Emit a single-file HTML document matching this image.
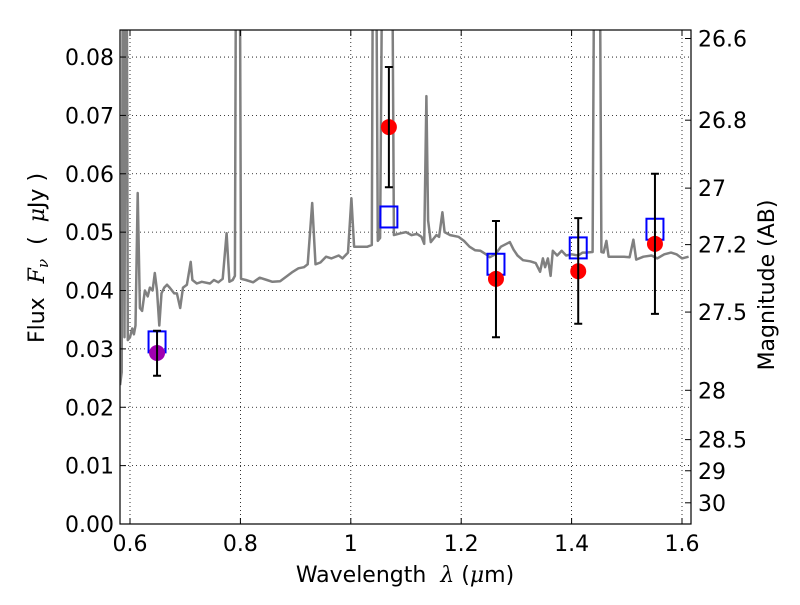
<!DOCTYPE html>
<html><head><meta charset="utf-8"><style>
body{margin:0;background:#fff}
text{font-family:"DejaVu Sans","Liberation Sans",sans-serif;fill:#000}
</style></head><body>
<svg id="chart" width="800" height="600" xmlns="http://www.w3.org/2000/svg">
<defs><clipPath id="clip"><rect x="120" y="30" width="571" height="494"/></clipPath></defs>
<rect x="0" y="0" width="800" height="600" fill="#fff"/>
<g id="grid"></g>
<g id="spec" clip-path="url(#clip)"></g>
<g id="pts"></g>
<rect x="120" y="30" width="571" height="494" fill="none" stroke="#000" stroke-width="1.2"/>
<g id="axes"></g>
<text x="405" y="582" font-size="22" text-anchor="middle" xml:space="preserve">Wavelength  <tspan font-style="italic" font-family="DejaVu Serif, serif">λ</tspan> (<tspan font-style="italic" font-family="DejaVu Serif, serif">μ</tspan>m)</text>
<text transform="translate(44,258) rotate(-90)" font-size="22" text-anchor="middle" xml:space="preserve">Flux  <tspan font-style="italic" font-family="DejaVu Serif, serif">F</tspan><tspan font-style="italic" font-size="15" dy="4" font-family="DejaVu Serif, serif">ν</tspan><tspan dy="-4">  (  </tspan><tspan font-style="italic" font-family="DejaVu Serif, serif">μ</tspan>Jy )</text>
<text transform="translate(774,285) rotate(-90)" font-size="22" text-anchor="middle">Magnitude (AB)</text>
</svg>
<script>
const specLam=[0.582,0.585,0.587,0.589,0.590,0.592,0.594,0.596,0.600,0.604,0.607,0.610,0.614,0.618,0.622,0.627,0.632,0.636,0.641,0.645,0.649,0.653,0.657,0.662,0.667,0.672,0.680,0.685,0.691,0.696,0.703,0.710,0.713,0.721,0.730,0.745,0.752,0.760,0.768,0.775,0.780,0.786,0.790,0.792,0.795,0.797,0.799,0.801,0.810,0.823,0.835,0.848,0.858,0.872,0.885,0.895,0.905,0.915,0.922,0.930,0.936,0.945,0.955,0.965,0.978,0.985,0.995,1.001,1.006,1.020,1.030,1.038,1.040,1.046,1.049,1.053,1.057,1.060,1.065,1.075,1.078,1.090,1.100,1.110,1.120,1.128,1.133,1.137,1.140,1.145,1.155,1.160,1.166,1.170,1.180,1.195,1.205,1.215,1.225,1.235,1.245,1.252,1.262,1.272,1.282,1.288,1.295,1.302,1.312,1.325,1.335,1.343,1.348,1.352,1.357,1.362,1.366,1.374,1.382,1.390,1.400,1.412,1.420,1.425,1.438,1.441,1.451,1.454,1.458,1.463,1.467,1.480,1.495,1.505,1.512,1.517,1.530,1.545,1.555,1.568,1.580,1.590,1.600,1.612];
const specFlux=[0.0238,0.026,0.10,0.10,0.032,0.10,0.10,0.0315,0.0320,0.0335,0.0325,0.0340,0.0567,0.0370,0.0365,0.0400,0.0390,0.0405,0.0400,0.0430,0.0400,0.0340,0.0395,0.0405,0.0410,0.0405,0.0395,0.0395,0.0370,0.0405,0.0410,0.0449,0.0418,0.0412,0.0415,0.0412,0.0418,0.0414,0.0420,0.0498,0.0415,0.0418,0.0425,0.10,0.10,0.10,0.10,0.0420,0.0418,0.0414,0.0422,0.0418,0.0415,0.0416,0.0425,0.0432,0.0438,0.0440,0.0445,0.0550,0.0445,0.0448,0.0458,0.0455,0.0460,0.0455,0.0465,0.0558,0.0475,0.0475,0.0475,0.0478,0.10,0.10,0.0485,0.0490,0.10,0.10,0.10,0.10,0.0495,0.0498,0.0500,0.0495,0.0497,0.0492,0.0480,0.0733,0.0520,0.0483,0.0495,0.0492,0.0534,0.0500,0.0495,0.0492,0.0485,0.0475,0.0469,0.0468,0.0462,0.0457,0.0462,0.0475,0.0480,0.0483,0.0470,0.0460,0.0452,0.0450,0.0447,0.0432,0.0455,0.0440,0.0455,0.0425,0.0468,0.0460,0.0468,0.0460,0.0462,0.0460,0.0465,0.0465,0.0466,0.10,0.10,0.0466,0.0465,0.0485,0.0458,0.0458,0.0458,0.0457,0.0487,0.0453,0.0458,0.0460,0.0455,0.0462,0.0465,0.0462,0.0455,0.0458];
const ptLam=[0.649,1.069,1.263,1.412,1.551];
const ptFlux=[0.0293,0.0680,0.0420,0.0433,0.0480];
const ptErrHi=[0.0331,0.0783,0.0519,0.0524,0.0600];
const ptErrLo=[0.0254,0.0577,0.0320,0.0343,0.0360];
const boxFlux=[0.0312,0.0526,0.0445,0.0473,0.0505];
const ptColor=['#a000b0','red','red','red','red'];
const xTicks=[0.6,0.8,1.0,1.2,1.4,1.6];
const xTickLabels=['0.6','0.8','1','1.2','1.4','1.6'];
const yTicks=[0,0.01,0.02,0.03,0.04,0.05,0.06,0.07,0.08];
const yTickLabels=['0.00','0.01','0.02','0.03','0.04','0.05','0.06','0.07','0.08'];
const magTicks=[26.6,26.8,27,27.2,27.5,28,28.5,29,30];
const magTickLabels=['26.6','26.8','27','27.2','27.5','28','28.5','29','30'];

const NS='http://www.w3.org/2000/svg';
const X=l=>130+(l-0.6)*552;
const Y=f=>524-f*5837;
function mk(tag,attrs,parent){const e=document.createElementNS(NS,tag);for(const k in attrs)e.setAttribute(k,attrs[k]);parent.appendChild(e);return e;}
const grid=document.getElementById('grid'),axes=document.getElementById('axes');
xTicks.forEach((t,i)=>{
 const x=X(t);
 const g=mk('line',{x1:x,x2:x,y1:30,y2:524,stroke:'#000','stroke-width':0.8,'stroke-dasharray':'1,3'},grid);
 
 
 mk('line',{x1:x,x2:x,y1:524,y2:518,stroke:'#000'},axes);
 mk('line',{x1:x,x2:x,y1:30,y2:36,stroke:'#000'},axes);
 const tx=mk('text',{x:x,y:551,'font-size':22,'text-anchor':'middle'},axes);
 tx.textContent=xTickLabels[i];
 
 
});
yTicks.forEach((t,i)=>{
 const y=Y(t);
 const g=mk('line',{x1:120,x2:691,y1:y,y2:y,stroke:'#000','stroke-width':0.8,'stroke-dasharray':'1,3'},grid);
 
 
 mk('line',{x1:120,x2:126,y1:y,y2:y,stroke:'#000'},axes);
 const tx=mk('text',{x:114,y:y+8,'font-size':22,'text-anchor':'end'},axes);
 tx.textContent=yTickLabels[i];
 
 
});
magTicks.forEach((m,i)=>{
 const y=Y(Math.pow(10,(23.9-m)/2.5));
 mk('line',{x1:691,x2:685,y1:y,y2:y,stroke:'#000'},axes);
 const tx=mk('text',{x:698,y:y+8,'font-size':22},axes);
 tx.textContent=magTickLabels[i];
 
 
});
const spec=document.getElementById('spec');
const d=specLam.map((l,i)=>(i?'L':'M')+X(l).toFixed(1)+','+Y(specFlux[i]).toFixed(1)).join('');
const p=mk('path',{d:d,fill:'none',stroke:'#808080','stroke-width':2.5,'stroke-linejoin':'round'},spec);


const pts=document.getElementById('pts');
ptLam.forEach((l,i)=>{
 const x=X(l);
 const b=mk('rect',{x:x-8.5,y:Y(boxFlux[i])-10.5,width:17,height:21,fill:'none',stroke:'#0000ff','stroke-width':2},pts);
 
 
 const c=mk('circle',{cx:x,cy:Y(ptFlux[i]),r:8,fill:ptColor[i]},pts);
 
 
 const e=mk('path',{d:`M${x},${Y(ptErrHi[i])}V${Y(ptErrLo[i])}M${x-4},${Y(ptErrHi[i])}h8M${x-4},${Y(ptErrLo[i])}h8`,stroke:'#000','stroke-width':2,fill:'none'},pts);
 
 
});
</script>
</body></html>
